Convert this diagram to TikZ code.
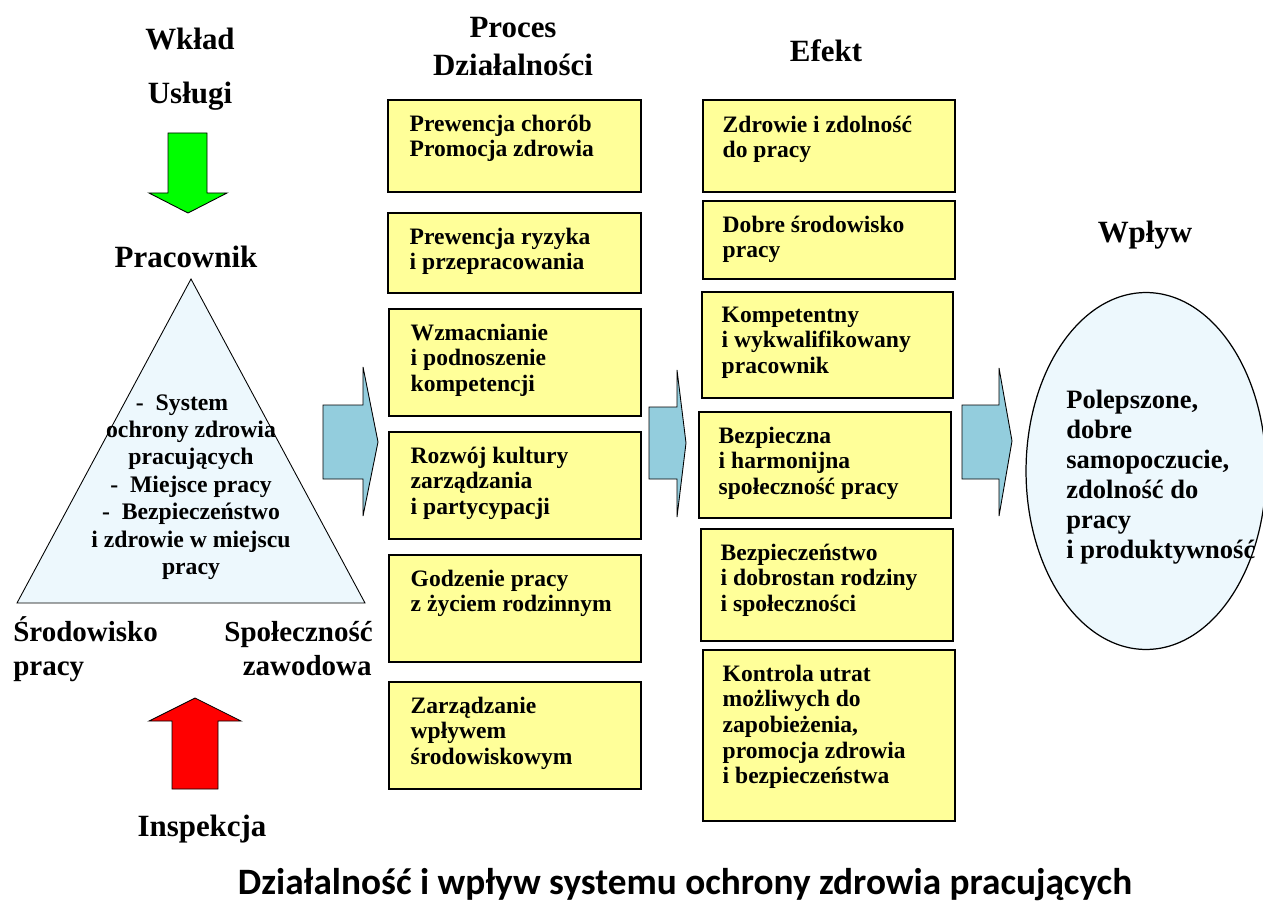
\documentclass[tikz,border=0pt]{standalone}
\usepackage{fontspec}
\setmainfont{Liberation Serif}
\newfontfamily\captionfont{Carlito}
\usepackage{tikz}
\usetikzlibrary{fit,shapes.geometric}
\usepackage{xcolor}
\definecolor{boxyellow}{RGB}{255,255,153}
\definecolor{flowblue}{RGB}{147,205,221}
\definecolor{paleblue}{RGB}{237,248,253}
\definecolor{inputgreen}{RGB}{0,255,0}
\definecolor{inspectred}{RGB}{255,0,0}

\begin{document}
\begin{tikzpicture}[x=0.02cm,y=-0.02cm]
  \tikzset{
    box/.style={draw=black,line width=0.7pt,fill=boxyellow,inner sep=0pt},
    txt/.style={anchor=north west,align=left,inner sep=0pt,font=\fontsize{13.4}{14.6}\selectfont\bfseries},
    head/.style={anchor=base,inner sep=0pt,font=\fontsize{17.6}{20}\selectfont\bfseries},
    side/.style={inner sep=0pt,font=\fontsize{16.5}{19}\selectfont\bfseries},
    blk/.style={draw=black,line width=0.5pt,fill=flowblue},
  }
  \useasboundingbox (0,0) rectangle (1263,905);

  % headings
  \node[head] (wklad) at (190,50) {Wkład};
  \node[head] (uslugi) at (190,104) {Usługi};
  \node[head] (pracownik) at (186,268) {Pracownik};
  \node[head] (inspekcja) at (202,836) {Inspekcja};
  \node[head] (proces) at (513,38) {Proces};
  \node[head] (dzial) at (513,76) {Działalności};
  \node[head] (efekt) at (826,62) {Efekt};
  \node[head] (wplywh) at (1145,243) {Wpływ};

  % input / inspection arrows
  \draw[line width=0.5pt,fill=inputgreen] (168,133) -- (207,133) -- (207,193) -- (227,193)
        -- (188,213) -- (149,193) -- (168,193) -- cycle;
  \draw[line width=0.5pt,fill=inspectred] (172,789) -- (218,789) -- (218,721) -- (241,721)
        -- (195,698) -- (149,721) -- (172,721) -- cycle;

  % triangle
  \draw[line width=0.5pt,fill=paleblue] (191,279) -- (365,603) -- (17,603) -- cycle;
  \node[anchor=north,align=center,inner sep=0pt,font=\fontsize{13.5}{15.6}\selectfont\bfseries] (ttext) at (191,394)
    {-\ \ System\hspace*{0.75em}\\ochrony zdrowia\\pracujących\\-\ \ Miejsce pracy\hspace*{0.75em}\\
     -\ \ Bezpieczeństwo\hspace*{0.75em}\\i zdrowie w miejscu\\pracy};
  \node[side,anchor=base west] (srod) at (13,641) {Środowisko};
  \node[side,anchor=base west] (srodb) at (13,675) {pracy};
  \node[side,anchor=base east] (spol) at (373,641) {Społeczność};
  \node[side,anchor=base east] (spolb) at (372,675) {zawodowa};

  % block arrows
  \draw[blk] (323,405) -- (363,405) -- (363,367) -- (378,442) -- (363,516) -- (363,479) -- (323,479) -- cycle;
  \draw[blk] (649,407) -- (677,407) -- (677,370) -- (686,443) -- (677,517) -- (677,479) -- (649,479) -- cycle;
  \draw[blk] (962,405) -- (999,405) -- (999,368) -- (1012,441) -- (999,516) -- (999,479) -- (962,479) -- cycle;

  % process column
  \node[box,fit={(388,100) (641,192)}] (p1) {};
  \node[box,fit={(388,213) (641,293)}] (p2) {};
  \node[box,fit={(389,309) (641,416)}] (p3) {};
  \node[box,fit={(389,432) (641,539)}] (p4) {};
  \node[box,fit={(389,555) (641,662)}] (p5) {};
  \node[box,fit={(389,682) (641,789)}] (p6) {};
  \node[txt] (p1t) at ([shift={(22,15)}]p1.north west) {Prewencja chorób\\Promocja zdrowia};
  \node[txt] (p2t) at ([shift={(22,15)}]p2.north west) {Prewencja ryzyka\\i przepracowania};
  \node[txt] (p3t) at ([shift={(22,15)}]p3.north west) {Wzmacnianie\\i podnoszenie\\kompetencji};
  \node[txt] (p4t) at ([shift={(22,15)}]p4.north west) {Rozwój kultury\\zarządzania\\i partycypacji};
  \node[txt] (p5t) at ([shift={(22,15)}]p5.north west) {Godzenie pracy\\z życiem rodzinnym};
  \node[txt] (p6t) at ([shift={(22,15)}]p6.north west) {Zarządzanie\\wpływem\\środowiskowym};

  % effect column
  \node[box,fit={(703,100) (955,192)}] (e1) {};
  \node[box,fit={(703,201) (955,279)}] (e2) {};
  \node[box,fit={(702,292) (953,398)}] (e3) {};
  \node[box,fit={(699,412) (951,518)}] (e4) {};
  \node[box,fit={(701,529) (953,641)}] (e5) {};
  \node[box,fit={(703,650) (955,821)}] (e6) {};
  \node[txt] (e1t) at ([shift={(20,16)}]e1.north west) {Zdrowie i zdolność\\do pracy};
  \node[txt] (e2t) at ([shift={(20,15)}]e2.north west) {Dobre środowisko\\pracy};
  \node[txt] (e3t) at ([shift={(20,15)}]e3.north west) {Kompetentny\\i wykwalifikowany\\pracownik};
  \node[txt] (e4t) at ([shift={(20,15)}]e4.north west) {Bezpieczna\\i harmonijna\\społeczność pracy};
  \node[txt] (e5t) at ([shift={(20,15)}]e5.north west) {Bezpieczeństwo\\i dobrostan rodziny\\i społeczności};
  \node[txt] (e6t) at ([shift={(20,15)}]e6.north west) {Kontrola utrat\\możliwych do\\zapobieżenia,\\promocja zdrowia\\i bezpieczeństwa};

  % impact
  \node[ellipse,draw=black,line width=0.7pt,fill=paleblue,minimum width=4.8cm,minimum height=7.14cm,inner sep=0pt] (wplyw) at (1146,471) {};
  \node[anchor=north west,align=left,inner sep=0pt,font=\fontsize{15.1}{17.1}\selectfont\bfseries] (wplywt) at (1066,390)
    {Polepszone,\\dobre\\samopoczucie,\\zdolność do\\pracy\\i produktywność};

  \node[anchor=base,inner sep=0pt,font=\captionfont\bfseries\fontsize{21.2}{24}\selectfont] (title) at (685,894)
    {Działalność i wpływ systemu ochrony zdrowia pracujących};
\end{tikzpicture}
\end{document}
